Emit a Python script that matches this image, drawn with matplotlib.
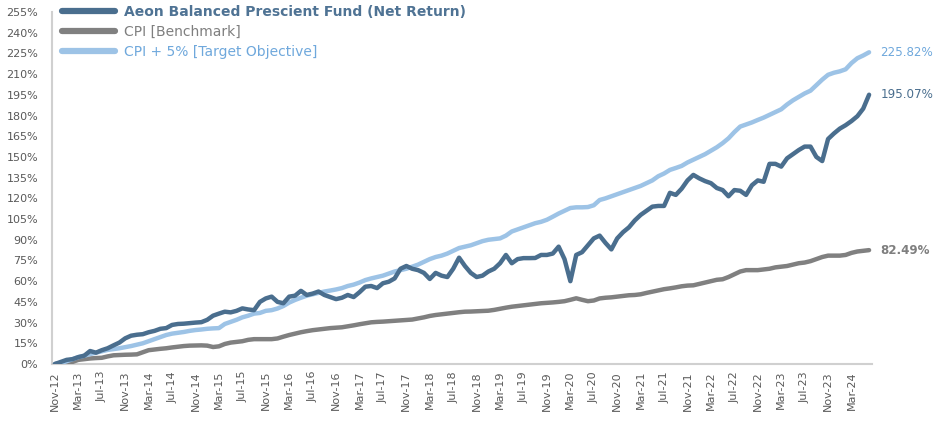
import matplotlib
matplotlib.use("Agg")
import matplotlib.pyplot as plt
import pandas as pd

months = pd.date_range("2012-11-01", "2024-06-01", freq="MS")
month_labels = [d.strftime("%b-%y") for d in months]

fund = [0, 1.5, 3, 3.5, 5, 6, 9.4, 8.2, 10, 11.4,
        13.5, 15.5, 18.6, 20.5, 21.2, 21.6, 23, 24, 25.5, 26,
        28.3, 29, 29.2, 29.6, 30, 30.3, 32, 35, 36.5, 37.9,
        37.4, 38.5, 40.3, 39.5, 39, 45, 47.5, 48.8, 45, 44,
        48.8, 49.5, 53, 50, 51, 52.5, 50, 48.5, 47, 48,
        50, 48.5, 52, 56, 56.5, 55, 58.5, 59.6, 62, 69,
        71, 69, 68, 66, 61.6, 66, 64, 63, 69, 77,
        71, 66, 63, 64, 67, 69, 73, 79, 73, 76,
        76.7, 76.7, 76.8, 79, 79, 80, 85, 76, 60, 79,
        81, 86, 91, 93, 87.7, 83, 91, 95.5, 99, 104,
        108, 111, 114, 114.5, 114.5, 124, 122.5, 127, 133, 137,
        134.5, 132.5, 131, 127.5, 126, 121.5, 126, 125.5, 122.5, 129.5,
        133, 132, 145, 145, 143, 149, 152, 155, 157.5, 157.5,
        150, 147, 163, 167, 170.5, 173, 176, 179.5, 185, 195.07]

cpi = [0, 0.3, 0.8, 1.5, 3, 3.5, 4, 4.3, 4.5, 5.5,
       6.3, 6.5, 6.7, 6.8, 7, 8.5, 10, 10.5, 11, 11.4,
       12, 12.5, 13, 13.3, 13.4, 13.5, 13.3, 12.3, 12.8, 14.5,
       15.5, 16, 16.5, 17.5, 18, 18, 18, 18, 18.5, 19.8,
       21, 22, 23, 23.8, 24.5, 25, 25.5, 26, 26.3, 26.6,
       27.3, 28, 28.8, 29.5, 30.2, 30.5, 30.7, 31, 31.3, 31.6,
       31.9, 32.2, 33, 33.8, 34.8, 35.5, 36, 36.5, 37, 37.5,
       37.9, 38, 38.2, 38.4, 38.6, 39.2, 40, 40.8, 41.5, 42,
       42.5, 43, 43.5, 44, 44.3, 44.6, 45, 45.5, 46.5, 47.6,
       46.5, 45.5, 46, 47.5, 48, 48.3, 48.8, 49.3, 49.8, 50,
       50.5, 51.5, 52.4, 53.3, 54.2, 54.8, 55.5, 56.3, 56.8, 57,
       58, 59, 60, 61, 61.4, 63, 65, 67, 68, 68,
       68, 68.5, 69, 70, 70.5, 71, 72, 73, 73.5, 74.5,
       76, 77.5, 78.5, 78.5, 78.5, 79, 80.5, 81.5, 82, 82.49]

target = [0, 0.5, 2, 3.5, 5, 6, 7.2, 8.2, 9.2, 10.2,
          10.8, 11.4, 12.2, 13, 14, 15, 16.5, 18, 19.5, 21,
          22, 22.6, 23.2, 24, 24.6, 25, 25.5, 25.8, 26, 29,
          30.5, 32, 33.8, 35, 36.5, 37, 38.5, 39, 40.2, 42,
          44.5, 46.4, 48, 49.5, 50.5, 51.5, 52.5, 53.2, 54, 55,
          56.5, 57.5, 59, 60.8, 62, 63, 64, 65.5, 67, 68,
          69, 70.5, 72, 74, 76, 77.5, 78.5, 80, 82, 84,
          85, 86, 87.5, 89, 90, 90.5, 91, 93, 96, 97.5,
          99, 100.5, 102, 103, 104.5, 106.7, 109, 111, 113, 113.5,
          113.5, 113.7, 115, 118.8, 120, 121.5, 123, 124.5, 126, 127.5,
          129, 131, 133, 136, 138, 140.6, 142, 143.5, 146, 148,
          150, 152, 154.5, 157, 160, 163.5, 168, 172, 173.5, 175,
          176.8, 178.5, 180.5, 182.5, 184.5, 188, 191, 193.5, 196, 198,
          202, 206, 209.5, 211, 212, 213.5, 218, 221.5, 223.5, 225.82]

series_names = ["Aeon Balanced Prescient Fund (Net Return)",
                "CPI [Benchmark]",
                "CPI + 5% [Target Objective]"]
yticks = list(range(0, 256, 15))

c_fund = "#4A6E8E"
c_cpi = "#808080"
c_target = "#9DC3E6"
txt_fund = "#4F7394"
txt_cpi = "#7F7F7F"
txt_target = "#6FA8DC"

fig = plt.figure(figsize=(9.34, 4.21), dpi=100)
ax = fig.add_axes([52/934, 1-364/421, 820/934, 352/421])

x = list(range(len(months)))
l2, = ax.plot(x, cpi, color=c_cpi, lw=3.2, solid_capstyle="round", solid_joinstyle="round", zorder=3)
l3, = ax.plot(x, target, color=c_target, lw=3.2, solid_capstyle="round", solid_joinstyle="round", zorder=3)
l1, = ax.plot(x, fund, color=c_fund, lw=3.2, solid_capstyle="round", solid_joinstyle="round", zorder=4)

ax.set_xlim(-0.5, len(months) - 0.5)
ax.set_ylim(0, 255)
ax.set_yticks(yticks)
ax.set_yticklabels([f"{v}%" for v in yticks], fontsize=8, color="#595959")
ax.set_xticks(x[::4])
ax.set_xticklabels(month_labels[::4], rotation=90, fontsize=8, color="#595959")
ax.tick_params(axis="both", length=0)
ax.tick_params(axis="y", pad=10)
ax.tick_params(axis="x", pad=5)

for s in ["top", "right"]:
    ax.spines[s].set_visible(False)
for s in ["left", "bottom"]:
    ax.spines[s].set_color("#D0D0D0")
    ax.spines[s].set_linewidth(1.5)

leg = ax.legend([l1, l2, l3], series_names, loc="upper left",
                bbox_to_anchor=(0.006, 1.035), frameon=False,
                handlelength=3.8, handletextpad=0.6, labelspacing=0.42,
                borderaxespad=0, prop={"size": 10})
for t, c in zip(leg.get_texts(), [txt_fund, txt_cpi, txt_target]):
    t.set_color(c)
leg.get_texts()[0].set_fontweight("bold")
for h in leg.legend_handles:
    h.set_linewidth(4.5)
    h.set_solid_capstyle("round")

last = len(months) - 1
lab_kw = dict(textcoords="offset points", va="center", ha="left",
              fontsize=8.6, annotation_clip=False)
ax.annotate(f"{target[-1]:.2f}%", xy=(last, target[-1]), xytext=(8, 0),
            color=txt_target, **lab_kw)
ax.annotate(f"{fund[-1]:.2f}%", xy=(last, fund[-1]), xytext=(8, 0),
            color=c_fund, **lab_kw)
ax.annotate(f"{cpi[-1]:.2f}%", xy=(last, cpi[-1]), xytext=(8, 0),
            color=txt_cpi, fontweight="bold", **lab_kw)

fig.savefig("out.png", dpi=100)
